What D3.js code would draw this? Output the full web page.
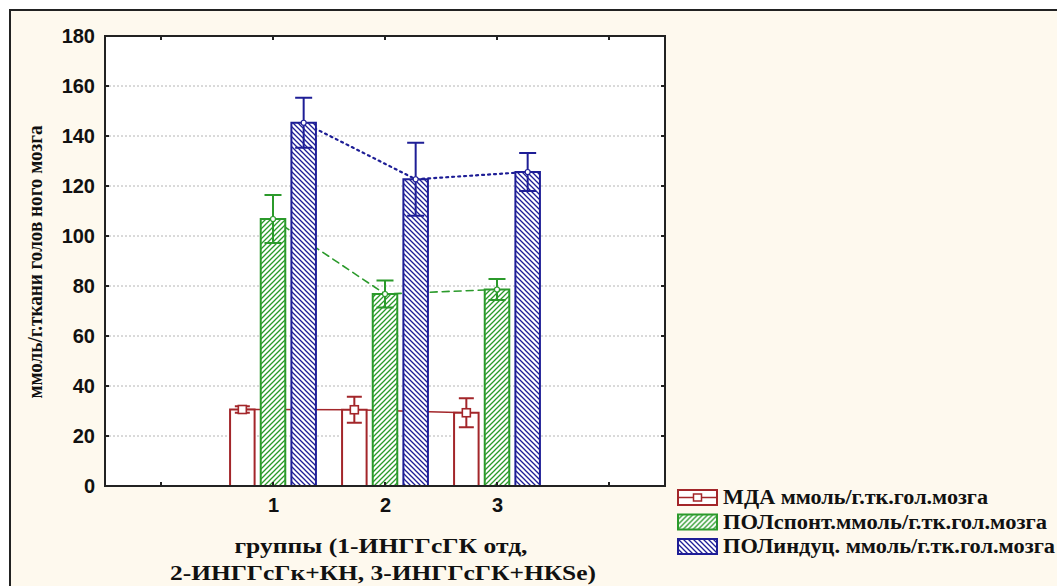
<html lang="ru">
<head>
<meta charset="UTF-8">
<title>ПОЛ</title>
<style>
  body { margin: 0; background: #fff; }
  .grid line { stroke: #b4b4b4; stroke-width: 1px; stroke-dasharray: 2,2; }
  .tick-lbl { font: bold 20px "Liberation Sans", Arial, sans-serif; fill: #111; }
  .title { font: bold 22px "Liberation Serif", "Times New Roman", serif; fill: #111; }
  .ytitle { font: bold 22px "Liberation Serif", "Times New Roman", serif; fill: #111; }
  .legend text { font: bold 20px "Liberation Serif", "Times New Roman", serif; fill: #111; }
</style>
</head>
<body>
<script src="https://cdnjs.cloudflare.com/ajax/libs/d3/7.8.5/d3.min.js"></script>
<script>

var groups = [1, 2, 3];
var yTicks = [0, 20, 40, 60, 80, 100, 120, 140, 160, 180];
var seriesNames = ["МДА ммоль/г.тк.гол.мозга", "ПОЛспонт.ммоль/г.тк.гол.мозга", "ПОЛиндуц. ммоль/г.тк.гол.мозга"];
var mda = [30.6, 30.5, 29.3];
var mdaErr = [1.3, 5.2, 5.8];
var polSpont = [106.8, 76.8, 78.6];
var polSpontErr = [9.6, 5.4, 4.2];
var polInd = [145.3, 122.7, 125.6];
var polIndErr = [10, 14.6, 7.6];

var colors = ["#a3262a", "#2b9a2b", "#1e1e96"];
var fills = ["#fff", "url(#hatchG)", "url(#hatchB)"];
var dashes = [null, "7,5", "2,4"];
var legendWidths = [265, 324, 332];

var series = [
  { name: seriesNames[0], means: mda, errs: mdaErr },
  { name: seriesNames[1], means: polSpont, errs: polSpontErr },
  { name: seriesNames[2], means: polInd, errs: polIndErr }
];
series.forEach(function(s, i){ s.i = i; });

var W = 1057, H = 586;
var pLeft = 105, pRight = 665, pTop = 36, pBottom = 486;

var svg = d3.select("body").append("svg")
  .attr("width", W)
  .attr("height", H);

var defs = svg.append("defs");
var pg = defs.append("pattern").attr("id", "hatchG")
  .attr("patternUnits", "userSpaceOnUse").attr("width", 5).attr("height", 5);
pg.append("rect").attr("width", 5).attr("height", 5).attr("fill", "#fff");
pg.append("path").attr("d", "M-1,1 l2,-2 M0,5 l5,-5 M4,6 l2,-2")
  .attr("stroke", colors[1]).attr("stroke-width", 1.3);
var pb = defs.append("pattern").attr("id", "hatchB")
  .attr("patternUnits", "userSpaceOnUse").attr("width", 5).attr("height", 5);
pb.append("rect").attr("width", 5).attr("height", 5).attr("fill", "#fff");
pb.append("path").attr("d", "M-1,4 l2,2 M0,0 l5,5 M4,-1 l2,2")
  .attr("stroke", colors[2]).attr("stroke-width", 1.3);

// outer panel
svg.append("rect")
  .attr("x", 10).attr("y", 10)
  .attr("width", W + 20).attr("height", H + 20)
  .attr("fill", "#fef9ee")
  .attr("stroke", "#222").attr("stroke-width", 2);

var x = d3.scaleLinear().domain([-0.5, 4.5]).range([pLeft, pRight]);
var y = d3.scaleLinear().domain([0, 180]).range([pBottom, pTop]);
var x1 = d3.scaleBand().domain([0, 1, 2]).range([-46, 46]).paddingInner(0.2).paddingOuter(0.1);

svg.append("rect")
  .attr("x", pLeft).attr("y", pTop)
  .attr("width", pRight - pLeft).attr("height", pBottom - pTop)
  .attr("fill", "#fff");

// grid
svg.append("g").attr("class", "grid")
  .selectAll("line")
  .data(yTicks.filter(function(d){ return d > 0 && d < 180; }))
  .enter().append("line")
    .attr("x1", pLeft).attr("x2", pRight)
    .attr("y1", function(d){ return y(d); })
    .attr("y2", function(d){ return y(d); });

function cx(s, g) {
  return x(groups[g]) + x1(s.i) + x1.bandwidth() / 2;
}

// lines joining means (behind bars)
var line = d3.line()
  .x(function(d){ return d[0]; })
  .y(function(d){ return d[1]; });

svg.append("g").selectAll("path")
  .data(series)
  .enter().append("path")
    .attr("d", function(s){
      return line(s.means.map(function(m, g){ return [cx(s, g), y(m)]; }));
    })
    .attr("fill", "none")
    .attr("stroke", function(s){ return colors[s.i]; })
    .attr("stroke-width", function(s){ return s.i === 2 ? 2.2 : 1.6; })
    .attr("stroke-linecap", "round")
    .attr("stroke-dasharray", function(s){ return dashes[s.i]; });

// bars
var gs = svg.append("g").selectAll("g")
  .data(series)
  .enter().append("g");

gs.selectAll("rect")
  .data(function(s){ return s.means.map(function(m, g){ return { s: s, g: g, m: m, e: s.errs[g] }; }); })
  .enter().append("rect")
    .attr("x", function(d){ return x(groups[d.g]) + x1(d.s.i); })
    .attr("y", function(d){ return y(d.m); })
    .attr("width", x1.bandwidth())
    .attr("height", function(d){ return y(0) - y(d.m); })
    .attr("fill", function(d){ return fills[d.s.i]; })
    .attr("stroke", function(d){ return colors[d.s.i]; })
    .attr("stroke-width", 2);

// error bars and mean markers
var eb = svg.append("g").selectAll("g")
  .data(d3.merge(series.map(function(s){
    return s.means.map(function(m, g){ return { s: s, g: g, m: m, e: s.errs[g] }; });
  })))
  .enter().append("g")
    .attr("stroke", function(d){ return colors[d.s.i]; })
    .attr("stroke-width", 2)
    .attr("fill", "none");

eb.append("path")
  .attr("d", function(d){
    var c = cx(d.s, d.g), hi = y(d.m + d.e), lo = y(d.m - d.e), w = d.s.i === 0 ? 7.5 : 8.5;
    return "M" + c + "," + hi + "V" + lo +
      "M" + (c - w) + "," + hi + "H" + (c + w) +
      "M" + (c - w) + "," + lo + "H" + (c + w);
  });

eb.append("rect")
  .attr("x", function(d){ return cx(d.s, d.g) - 4; })
  .attr("y", function(d){ return y(d.m) - 4; })
  .attr("width", 8).attr("height", 8)
  .attr("fill", "#fff")
  .attr("stroke-width", 1.6)
  .attr("opacity", function(d){ return d.s.i === 0 ? 1 : 0; });

eb.append("circle")
  .attr("cx", function(d){ return cx(d.s, d.g); })
  .attr("cy", function(d){ return y(d.m); })
  .attr("r", 2.5)
  .attr("fill", "#fff")
  .attr("stroke-width", 1.2)
  .attr("opacity", function(d){ return d.s.i === 0 ? 0 : 1; });

// frame and inner ticks
svg.append("rect")
  .attr("x", pLeft).attr("y", pTop)
  .attr("width", pRight - pLeft).attr("height", pBottom - pTop)
  .attr("fill", "none").attr("stroke", "#222").attr("stroke-width", 2);

var xt = [0, 1, 2, 3, 4];
var ticks = svg.append("g").attr("stroke", "#222").attr("stroke-width", 2);
ticks.selectAll(".xt").data(xt).enter().append("path")
  .attr("d", function(d){
    return "M" + x(d) + "," + pTop + "v4M" + x(d) + "," + pBottom + "v-4";
  });
ticks.selectAll(".yt").data(yTicks).enter().append("path")
  .attr("d", function(d){
    return "M" + pLeft + "," + y(d) + "h4M" + pRight + "," + y(d) + "h-4";
  });

// axes labels via d3 axes
var yAxis = svg.append("g")
  .attr("transform", "translate(" + pLeft + ",0)")
  .call(d3.axisLeft(y).tickValues(yTicks).tickSize(0).tickPadding(10).tickFormat(d3.format("d")));
yAxis.select(".domain").remove();

var xAxis = svg.append("g")
  .attr("transform", "translate(0," + pBottom + ")")
  .call(d3.axisBottom(x).tickValues(groups).tickSize(0).tickPadding(12).tickFormat(d3.format("d")));
xAxis.select(".domain").remove();

svg.selectAll(".tick text")
  .attr("class", "tick-lbl")
  .attr("font-size", null).attr("font-family", null);
svg.selectAll(".tick line").remove();

// axis titles
svg.append("text").attr("class", "ytitle")
  .attr("transform", "translate(42,262) rotate(-90)")
  .attr("text-anchor", "middle")
  .attr("textLength", 273).attr("lengthAdjust", "spacingAndGlyphs")
  .text("ммоль/г.ткани голов ного мозга");

svg.append("text").attr("class", "title")
  .attr("x", 381).attr("y", 553)
  .attr("text-anchor", "middle")
  .attr("textLength", 293).attr("lengthAdjust", "spacingAndGlyphs")
  .text("группы (1-ИНГГсГК отд,");
svg.append("text").attr("class", "title")
  .attr("x", 383).attr("y", 580)
  .attr("text-anchor", "middle")
  .attr("textLength", 426).attr("lengthAdjust", "spacingAndGlyphs")
  .text("2-ИНГГсГк+КН, 3-ИНГГсГК+НКSe)");

// legend
var lg = svg.append("g").attr("class", "legend")
  .selectAll("g").data(series).enter().append("g")
    .attr("transform", function(s){ return "translate(678," + (490 + s.i * 24.5) + ")"; });

lg.append("rect")
  .attr("width", 39).attr("height", 15)
  .attr("fill", function(s){ return fills[s.i]; })
  .attr("stroke", function(s){ return colors[s.i]; })
  .attr("stroke-width", 2);
lg.filter(function(s){ return s.i === 0; }).append("path")
  .attr("d", "M0,7.5H39")
  .attr("stroke", colors[0]).attr("stroke-width", 1.5);
lg.filter(function(s){ return s.i === 0; }).append("rect")
  .attr("x", 15.5).attr("y", 4).attr("width", 8).attr("height", 7)
  .attr("fill", "#fff").attr("stroke", colors[0]).attr("stroke-width", 1.5);
lg.append("text")
  .attr("x", 45).attr("y", 14)
  .attr("textLength", function(s){ return legendWidths[s.i]; })
  .attr("lengthAdjust", "spacingAndGlyphs")
  .text(function(s){ return s.name; });

</script>
</body>
</html>
